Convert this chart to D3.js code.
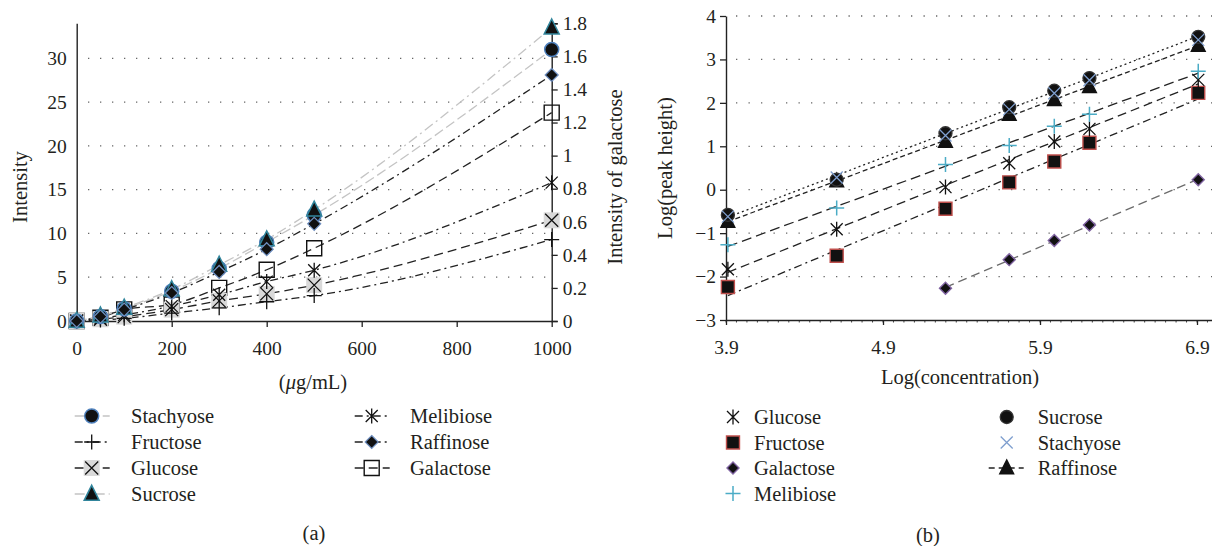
<!DOCTYPE html>
<html>
<head>
<meta charset="utf-8">
<script src="https://cdn.jsdelivr.net/npm/d3@7"></script>
<style>
  body { margin: 0; background: #fff; }
  svg { display: block; }
  text { font-family: "Liberation Serif", "DejaVu Serif", serif; fill: #231f20; }
</style>
</head>
<body>
<svg id="chart" width="1212" height="546"></svg>
<script>
// ---- panel (a): intensity vs concentration (ug/mL) ----
const concA = [0, 50, 100, 200, 300, 400, 500, 1000];
const stachyoseA = [0, 0.5, 1.4, 3.4, 6.0, 9.0, 12.1, 31.0];
const fructoseA = [0, 0.1, 0.3, 0.9, 1.5, 2.2, 2.9, 9.3];
const glucoseA = [0, 0.2, 0.5, 1.3, 2.3, 3.1, 4.1, 11.5];
const sucroseA = [0, 0.6, 1.5, 3.6, 6.4, 9.3, 12.7, 33.5];
const melibioseA = [0, 0.3, 0.7, 1.7, 3.0, 4.5, 5.8, 15.8];
const raffinoseA = [0, 0.5, 1.3, 3.2, 5.6, 8.2, 11.1, 28.1];
const galactoseA = [0, 0.02, 0.07, 0.1, 0.2, 0.31, 0.44, 1.26]; // right axis
const xTicksA = [0, 200, 400, 600, 800, 1000];
const leftTicksA = [0, 5, 10, 15, 20, 25, 30];
const rightTicksA = [0, 0.2, 0.4, 0.6, 0.8, 1, 1.2, 1.4, 1.6, 1.8];

// ---- panel (b): log(peak height) vs log(concentration) ----
const logConcB = [3.912, 4.605, 5.298, 5.704, 5.991, 6.215, 6.908];
const glucoseB = [-1.83, -0.91, 0.06, 0.61, 1.11, 1.40, 2.53];
const fructoseB = [-2.24, -1.52, -0.44, 0.17, 0.65, 1.08, 2.23];
const galactoseB = [null, null, -2.27, -1.61, -1.17, -0.81, 0.23];
const melibioseB = [-1.27, -0.42, 0.58, 1.02, 1.46, 1.74, 2.73];
const sucroseB = [-0.58, 0.23, 1.30, 1.90, 2.28, 2.57, 3.52];
const stachyoseB = [-0.62, 0.28, 1.25, 1.85, 2.22, 2.52, 3.45];
const raffinoseB = [-0.73, 0.20, 1.11, 1.73, 2.07, 2.37, 3.32];
const xTicksB = [3.9, 4.9, 5.9, 6.9];
const yTicksB = [-3, -2, -1, 0, 1, 2, 3, 4];

const svg = d3.select("#chart");
const FS = 19.5;   // tick labels
const FL = 20.5;   // titles and legend
const ink = "#222";

// marker outlines, centred on 0,0
function shape(type, s) {
  const h = s / 2;
  switch (type) {
    case "circle": return d3.symbol(d3.symbolCircle, Math.PI * h * h)();
    case "square": return `M${-h},${-h}H${h}V${h}H${-h}Z`;
    case "diamond": return `M0,${-h}L${h},0L0,${h}L${-h},0Z`;
    case "triangle": return `M0,${-s * 0.58}L${h},${s * 0.42}L${-h},${s * 0.42}Z`;
    case "plus": return `M${-h},0H${h}M0,${-h}V${h}`;
    case "x": return `M${-h},${-h}L${h},${h}M${h},${-h}L${-h},${h}`;
    case "asterisk": return `M${-h * 0.8},${-h * 0.8}L${h * 0.8},${h * 0.8}M${h * 0.8},${-h * 0.8}L${-h * 0.8},${h * 0.8}M0,${-h}V${h}`;
  }
}

function marker(g, m) {
  if (m.bg) g.append("path").attr("d", shape("square", m.bg)).attr("fill", "#d9d9d9");
  g.append("path")
    .attr("d", shape(m.type, m.size))
    .attr("fill", m.fill || "none")
    .attr("stroke", m.stroke)
    .attr("stroke-width", m.sw || 1.3);
}

// ================= panel (a) =================
const xA = d3.scaleLinear([0, 1000], [76.7, 551.7]);
const yL = d3.scaleLinear([0, 34], [321, 23.3]);
const yR = d3.scaleLinear([0, 1.8], [321, 23.3]);

const seriesA = [
  { name: "Galactose", vals: galactoseA, y: yR, line: ink, dash: "9,5",
    m: { type: "square", size: 15, stroke: "#111", sw: 1.4 } },
  { name: "Glucose", vals: glucoseA, y: yL, line: ink, dash: "9,5",
    m: { type: "x", size: 13, stroke: "#111", bg: 16 } },
  { name: "Fructose", vals: fructoseA, y: yL, line: ink, dash: "8,4,2,4",
    m: { type: "plus", size: 15, stroke: "#111" } },
  { name: "Melibiose", vals: melibioseA, y: yL, line: ink, dash: "8,4,2,4",
    m: { type: "asterisk", size: 15, stroke: "#111" } },
  { name: "Stachyose", vals: stachyoseA, y: yL, line: "#c4c4c4", dash: "10,4",
    m: { type: "circle", size: 14, fill: "#111", stroke: "#4f81bd", sw: 1.5 } },
  { name: "Sucrose", vals: sucroseA, y: yL, line: "#c4c4c4", dash: "10,4,2,4",
    m: { type: "triangle", size: 15, fill: "#111", stroke: "#31859c", sw: 1.5 } },
  { name: "Raffinose", vals: raffinoseA, y: yL, line: ink, dash: "8,4,2,4",
    m: { type: "diamond", size: 13, fill: "#111", stroke: "#6f8fc0", sw: 1.2 } }
];

const gA = svg.append("g");

// dotted horizontal grid
gA.selectAll("line.grid").data(leftTicksA.filter(d => d > 0)).join("line")
  .attr("x1", 88).attr("x2", 548)
  .attr("y1", d => yL(d)).attr("y2", d => yL(d))
  .attr("stroke", "#666").attr("stroke-width", 1.3).attr("stroke-dasharray", "1.3,10.7");

// axes
const axL = gA.append("g").attr("transform", "translate(76.7,0)")
  .call(d3.axisLeft(yL).tickValues(leftTicksA).tickSize(0).tickPadding(10));
const axR = gA.append("g").attr("transform", "translate(551.7,0)")
  .call(d3.axisRight(yR).tickValues(rightTicksA).tickSize(6).tickPadding(5)
    .tickFormat(d => +d.toFixed(1)));
const axB = gA.append("g").attr("transform", "translate(0,321)")
  .call(d3.axisBottom(xA).tickValues(xTicksA).tickSize(6).tickSizeOuter(0)
    .tickFormat(d3.format("d")));
axB.selectAll("text").attr("y", 27).attr("dy", "0.35em");

[axL, axR, axB].forEach(a => {
  a.selectAll("path.domain").attr("stroke", ink).attr("stroke-width", 1.4);
  a.selectAll("line").attr("stroke", ink).attr("stroke-width", 1.3);
  a.selectAll("text").attr("font-size", FS).attr("font-family", null).attr("fill", "#231f20");
});

// curves through the readings
seriesA.forEach(s => {
  const line = d3.line().x((d, i) => xA(concA[i])).y(d => s.y(d)).curve(d3.curveMonotoneX);
  gA.append("path").attr("d", line(s.vals))
    .attr("fill", "none").attr("stroke", s.line).attr("stroke-width", 1.3)
    .attr("stroke-dasharray", s.dash);
});
seriesA.forEach(s => {
  s.vals.forEach((v, i) => {
    marker(gA.append("g").attr("transform", `translate(${xA(concA[i])},${s.y(v)})`), s.m);
  });
});

// titles
gA.append("text").attr("transform", "translate(20,187) rotate(-90)")
  .attr("dy", "0.35em").attr("text-anchor", "middle").attr("font-size", FL).text("Intensity");
gA.append("text").attr("transform", "translate(615,177) rotate(-90)")
  .attr("dy", "0.35em").attr("text-anchor", "middle").attr("font-size", FL).text("Intensity of galactose");
const xl = gA.append("text").attr("x", 313).attr("y", 382).attr("dy", "0.35em")
  .attr("text-anchor", "middle").attr("font-size", FL);
xl.append("tspan").text("(");
xl.append("tspan").attr("font-style", "italic").text("μ");
xl.append("tspan").text("g/mL)");

// legend (a)
const legA = [
  ["Stachyose", 0, 0], ["Fructose", 0, 1], ["Glucose", 0, 2], ["Sucrose", 0, 3],
  ["Melibiose", 1, 0], ["Raffinose", 1, 1], ["Galactose", 1, 2]
];
legA.forEach(([name, col, row]) => {
  const s = seriesA.find(d => d.name === name);
  const cx = col ? 371.7 : 91.7, y = 416 + row * 26;
  gA.append("line").attr("x1", cx - 17).attr("x2", cx + 18).attr("y1", y).attr("y2", y)
    .attr("stroke", s.line).attr("stroke-width", 1.3).attr("stroke-dasharray", s.dash);
  marker(gA.append("g").attr("transform", `translate(${cx},${y})`), s.m);
  gA.append("text").attr("x", col ? 410 : 131).attr("y", y).attr("dy", "0.35em")
    .attr("font-size", FL).text(name);
});
gA.append("text").attr("x", 314).attr("y", 533).attr("dy", "0.35em")
  .attr("text-anchor", "middle").attr("font-size", FL).text("(a)");

// ================= panel (b) =================
const xB = d3.scaleLinear([3.9, 7.0], [726, 1212.7]);
const yB = d3.scaleLinear([-3, 4], [320, 16]);

const seriesB = [
  { name: "Fructose", vals: fructoseB, line: ink, dash: "8,4,2,4",
    m: { type: "square", size: 13, fill: "#111", stroke: "#c0504d", sw: 1.4 } },
  { name: "Galactose", vals: galactoseB, line: "#6b6b6b", dash: "9,5",
    m: { type: "diamond", size: 12, fill: "#111", stroke: "#8064a2", sw: 1.4 } },
  { name: "Glucose", vals: glucoseB, line: ink, dash: "9,5",
    m: { type: "asterisk", size: 15, stroke: "#111" } },
  { name: "Melibiose", vals: melibioseB, line: ink, dash: "10,5",
    m: { type: "plus", size: 15, stroke: "#4bacc6", sw: 1.5 } },
  { name: "Raffinose", vals: raffinoseB, line: ink, dash: "5,3",
    m: { type: "triangle", size: 14, fill: "#111", stroke: "#111" } },
  { name: "Sucrose", vals: sucroseB, line: ink, dash: "2,3",
    m: { type: "circle", size: 13, fill: "#111", stroke: "#333" } },
  { name: "Stachyose", vals: stachyoseB, line: null,
    m: { type: "x", size: 12, stroke: "#7f9fcf", sw: 1.3 } }
];

const gB = svg.append("g");

gB.selectAll("line.grid").data(yTicksB.filter(d => d > -3)).join("line")
  .attr("x1", 736).attr("x2", 1212)
  .attr("y1", d => yB(d)).attr("y2", d => yB(d))
  .attr("stroke", "#666").attr("stroke-width", 1.3).attr("stroke-dasharray", "1.3,11.2");

// minor ticks on the x axis
gB.selectAll("line.minor").data(d3.range(3.9, 7.0, 1 / 15)).join("line")
  .attr("x1", d => xB(d)).attr("x2", d => xB(d)).attr("y1", 320).attr("y2", 322.5)
  .attr("stroke", "#444").attr("stroke-width", 1);

const bxL = gB.append("g").attr("transform", "translate(726,0)")
  .call(d3.axisLeft(yB).tickValues(yTicksB).tickSize(6).tickSizeOuter(0).tickPadding(4)
    .tickFormat(d => d < 0 ? "\u2212" + Math.abs(d) : d));
const bxB = gB.append("g").attr("transform", "translate(0,320)")
  .call(d3.axisBottom(xB).tickValues(xTicksB).tickSize(5).tickSizeOuter(0)
    .tickFormat(d3.format(".1f")));
bxB.selectAll("text").attr("y", 27).attr("dy", "0.35em");
[bxL, bxB].forEach(a => {
  a.selectAll("path.domain").attr("stroke", ink).attr("stroke-width", 1.4);
  a.selectAll("line").attr("stroke", ink).attr("stroke-width", 1.3);
  a.selectAll("text").attr("font-size", FS).attr("font-family", null).attr("fill", "#231f20");
});

// linear trend lines (least squares)
function fit(xs, ys) {
  const pts = xs.map((x, i) => [x, ys[i]]).filter(p => p[1] != null);
  const mx = d3.mean(pts, p => p[0]), my = d3.mean(pts, p => p[1]);
  const k = d3.sum(pts, p => (p[0] - mx) * (p[1] - my)) / d3.sum(pts, p => (p[0] - mx) ** 2);
  const x0 = pts[0][0], x1 = pts[pts.length - 1][0];
  return [[x0, my + k * (x0 - mx)], [x1, my + k * (x1 - mx)]];
}
seriesB.filter(s => s.line).forEach(s => {
  const ends = fit(logConcB, s.vals);
  gB.append("path").attr("d", d3.line().x(d => xB(d[0])).y(d => yB(d[1]))(ends))
    .attr("fill", "none").attr("stroke", s.line).attr("stroke-width", 1.3)
    .attr("stroke-dasharray", s.dash);
});
seriesB.forEach(s => {
  s.vals.forEach((v, i) => {
    if (v == null) return;
    marker(gB.append("g").attr("transform", `translate(${xB(logConcB[i])},${yB(v)})`), s.m);
  });
});

gB.append("text").attr("transform", "translate(665,168) rotate(-90)")
  .attr("dy", "0.35em").attr("text-anchor", "middle").attr("font-size", FL).text("Log(peak height)");
gB.append("text").attr("x", 960).attr("y", 377).attr("dy", "0.35em")
  .attr("text-anchor", "middle").attr("font-size", FL).text("Log(concentration)");

// legend (b)
const legB = [
  ["Glucose", 0, 0], ["Fructose", 0, 1], ["Galactose", 0, 2], ["Melibiose", 0, 3],
  ["Sucrose", 1, 0], ["Stachyose", 1, 1], ["Raffinose", 1, 2]
];
legB.forEach(([name, col, row]) => {
  const s = seriesB.find(d => d.name === name);
  const cx = col ? 1006.7 : 733, y = 417 + row * 25.5;
  if (name === "Raffinose") {
    gB.append("line").attr("x1", cx - 18).attr("x2", cx + 17).attr("y1", y).attr("y2", y)
      .attr("stroke", ink).attr("stroke-width", 1.3).attr("stroke-dasharray", "6,4");
  }
  marker(gB.append("g").attr("transform", `translate(${cx},${y})`), s.m);
  gB.append("text").attr("x", col ? 1037.7 : 754).attr("y", y).attr("dy", "0.35em")
    .attr("font-size", FL).text(name);
});
gB.append("text").attr("x", 928).attr("y", 535).attr("dy", "0.35em")
  .attr("text-anchor", "middle").attr("font-size", FL).text("(b)");
</script>
</body>
</html>
